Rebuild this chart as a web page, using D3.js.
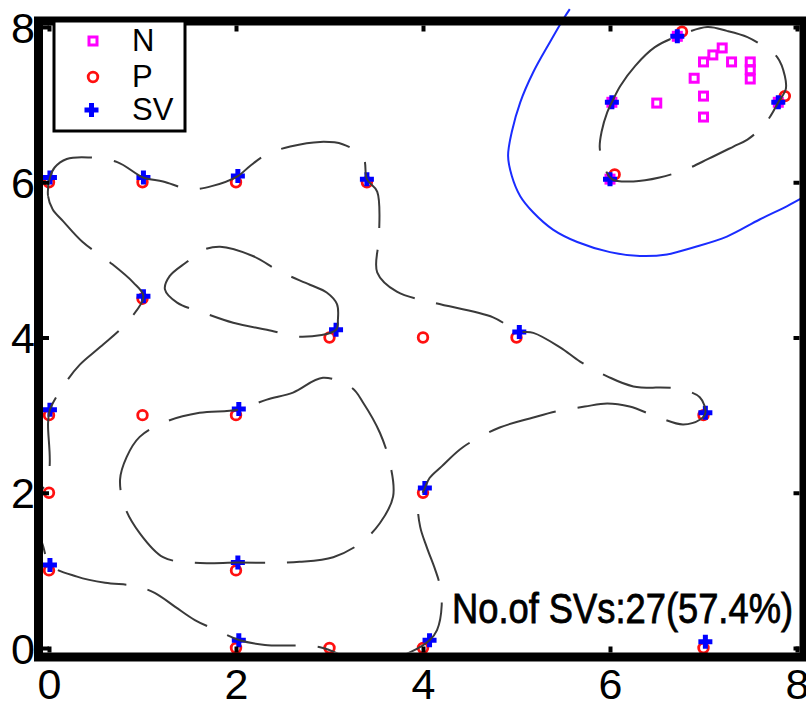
<!DOCTYPE html>
<html>
<head>
<meta charset="utf-8">
<script src="https://cdn.jsdelivr.net/npm/d3@7"></script>
<style>
  body { margin: 0; background: #fff; }
  text { font-family: "Liberation Sans", Arial, sans-serif; }
</style>
</head>
<body>
<div id="chart"></div>
<script>
// ---- data ----
const xTicks = [0, 2, 4, 6, 8]
const yTicks = [0, 2, 4, 6, 8]

const nPoints = [
  [6.5, 7.02], [7.0, 7.11], [7.0, 6.84], [6.9, 7.34], [7.0, 7.55], [7.1, 7.64],
  [7.2, 7.73], [7.3, 7.55], [7.5, 7.55], [7.5, 7.45], [7.5, 7.33],
  [6.02, 7.03], [6.0, 6.04], [6.72, 7.88], [7.8, 7.03]
]

const pPoints = [
  [0, 6], [1, 6], [2, 6], [3.4, 6], [6.05, 6.1], [6.77, 7.94], [7.87, 7.11],
  [1, 4.5], [3, 4], [4, 4], [5, 4], [7, 3], [0, 3], [1, 3], [2, 3],
  [0, 2], [4, 2], [0, 1], [2, 1], [2, 0], [3, 0], [4, 0], [7, 0]
]

const svPoints = [
  [0.01, 6.06], [1.01, 6.06], [2.02, 6.08], [3.4, 6.04], [6.0, 6.04], [6.02, 7.03],
  [6.72, 7.88], [7.8, 7.03], [1.01, 4.53], [3.07, 4.1], [5.03, 4.07], [7.02, 3.03],
  [0.01, 3.07], [2.03, 3.08], [4.02, 2.06], [0.01, 1.07], [2.02, 1.1], [2.03, 0.1],
  [4.07, 0.1], [7.02, 0.08]
]

// decision boundary (solid blue)
const boundary = [
  [5.57, 8.23], [5.50, 8.10], [5.36, 7.81], [5.18, 7.42], [5.04, 7.03], [4.95, 6.65],
  [4.91, 6.34], [4.95, 6.08], [5.04, 5.82], [5.18, 5.61], [5.39, 5.39], [5.65, 5.23],
  [6.00, 5.10], [6.32, 5.05], [6.61, 5.07], [6.89, 5.16], [7.25, 5.30], [7.60, 5.52],
  [7.89, 5.69], [8.09, 5.82]
]

// margin contours (dashed, closed loops)
const loopTopRight = [
  [6.02, 7.03], [6.11, 7.24], [6.27, 7.50], [6.48, 7.74], [6.72, 7.88], [7.04, 8.00],
  [7.25, 7.95], [7.47, 7.87], [7.64, 7.75], [7.79, 7.61], [7.87, 7.37], [7.88, 7.20],
  [7.80, 7.03], [7.71, 6.84], [7.60, 6.68], [7.47, 6.55], [7.32, 6.46], [7.05, 6.30],
  [6.82, 6.17], [6.53, 6.06], [6.25, 6.01], [6.02, 6.04], [5.93, 6.23], [5.89, 6.45],
  [5.91, 6.65], [5.97, 6.90]
]

const loopOuter = [
  [0.01, 6.06], [-0.01, 5.82], [0.04, 5.65], [0.15, 5.50], [0.36, 5.23], [0.65, 4.97],
  [0.90, 4.71], [1.01, 4.53], [0.83, 4.19], [0.55, 3.88], [0.33, 3.65], [0.15, 3.37],
  [0.01, 3.07], [-0.01, 2.90], [0.0, 2.27], [-0.15, 1.78], [-0.06, 1.30], [0.01, 1.07],
  [0.30, 0.92], [0.60, 0.84], [0.92, 0.80], [1.13, 0.71], [1.35, 0.53], [1.56, 0.36],
  [1.81, 0.22], [2.04, 0.10], [2.31, 0.04], [2.90, 0.01], [3.43, -0.22], [3.87, -0.05],
  [4.07, 0.10], [4.15, 0.23], [4.20, 0.55], [4.18, 0.81], [4.13, 1.01], [4.04, 1.30],
  [3.97, 1.56], [3.95, 1.85], [4.02, 2.06], [4.07, 2.19], [4.20, 2.34], [4.43, 2.59],
  [4.82, 2.84], [5.18, 2.97], [5.43, 3.05], [5.73, 3.11], [5.97, 3.15], [6.21, 3.11],
  [6.50, 2.98], [6.78, 2.88], [6.96, 2.94], [7.02, 3.03], [6.96, 3.23], [6.72, 3.34],
  [6.25, 3.37], [5.97, 3.50], [5.68, 3.69], [5.47, 3.87], [5.18, 4.06], [5.01, 4.08],
  [4.75, 4.26], [4.11, 4.45], [3.72, 4.59], [3.51, 4.84], [3.53, 5.30], [3.51, 5.88],
  [3.40, 6.04], [3.36, 6.32], [3.14, 6.49], [2.90, 6.52], [2.58, 6.46], [2.33, 6.36],
  [2.15, 6.21], [2.02, 6.08], [1.74, 5.95], [1.51, 5.91], [1.22, 6.01], [1.01, 6.06],
  [0.73, 6.26], [0.42, 6.32], [0.19, 6.30], [0.06, 6.19]
]

const loopMid = [
  [3.07, 4.10], [3.09, 4.23], [3.08, 4.43], [2.97, 4.58], [2.79, 4.68], [2.47, 4.85],
  [2.18, 5.05], [1.83, 5.17], [1.61, 5.11], [1.48, 4.98], [1.29, 4.79], [1.24, 4.62],
  [1.37, 4.45], [1.65, 4.32], [1.97, 4.19], [2.33, 4.10], [2.71, 4.01]
]

const loopLow = [
  [2.02, 3.07], [2.33, 3.20], [2.61, 3.29], [2.93, 3.48], [3.24, 3.35], [3.36, 3.16],
  [3.54, 2.77], [3.65, 2.36], [3.68, 1.95], [3.54, 1.61], [3.33, 1.35], [3.04, 1.17],
  [2.68, 1.11], [2.40, 1.10], [2.02, 1.10], [1.53, 1.10], [1.22, 1.17], [0.97, 1.48],
  [0.81, 1.82], [0.76, 2.17], [0.83, 2.46], [0.97, 2.72], [1.26, 2.92], [1.61, 3.03]
]

const legendItems = ['N', 'P', 'SV']
const svNote = 'No.of SVs:27(57.4%)'

// ---- canvas ----
const width = 806,
  height = 706

const svg = d3.select('#chart')
  .append('svg')
  .attr('width', width)
  .attr('height', height)

const x = d3.scaleLinear().domain([0, 8]).range([49, 797])
const y = d3.scaleLinear().domain([0, 8]).range([648, 27])

// frame sits a little outside the data area, like the original export
const frame = { left: 38.5, right: 804, top: 21, bottom: 657, w: 9 }
const inner = { left: frame.left + frame.w / 2, right: frame.right - frame.w / 2,
  top: frame.top + frame.w / 2, bottom: frame.bottom - frame.w / 2 }

svg.append('clipPath').attr('id', 'plotclip')
  .append('rect')
  .attr('x', inner.left).attr('y', inner.top)
  .attr('width', inner.right - inner.left)
  .attr('height', inner.bottom - inner.top)

// markers
const plus = 'M-7,0H7M0,-7V7'

svg.append('g').selectAll('rect')
  .data(nPoints)
  .enter().append('rect')
  .attr('x', d => x(d[0]) - 4)
  .attr('y', d => y(d[1]) - 4)
  .attr('width', 8).attr('height', 8)
  .attr('fill', 'none')
  .attr('stroke', '#ff00ff')
  .attr('stroke-width', 3)

svg.append('g').selectAll('circle')
  .data(pPoints)
  .enter().append('circle')
  .attr('cx', d => x(d[0]))
  .attr('cy', d => y(d[1]))
  .attr('r', 4.8)
  .attr('fill', 'none')
  .attr('stroke', '#ff1010')
  .attr('stroke-width', 2.8)

svg.append('g').selectAll('path')
  .data(svPoints)
  .enter().append('path')
  .attr('transform', d => 'translate(' + x(d[0]) + ',' + y(d[1]) + ')')
  .attr('d', plus)
  .attr('stroke', '#0000ff')
  .attr('stroke-width', 5)

// contours
const closedLine = d3.line()
  .x(d => x(d[0])).y(d => y(d[1]))
  .curve(d3.curveCatmullRomClosed.alpha(0.5))

const openLine = d3.line()
  .x(d => x(d[0])).y(d => y(d[1]))
  .curve(d3.curveCatmullRom.alpha(0.5))

svg.append('g')
  .attr('clip-path', 'url(#plotclip)')
  .selectAll('path')
  .data([loopOuter, loopMid, loopLow, loopTopRight])
  .enter().append('path')
  .attr('d', closedLine)
  .attr('fill', 'none')
  .attr('stroke', '#3a3a3a')
  .attr('stroke-width', 2)
  .attr('stroke-dasharray', '70,22')

svg.append('path')
  .datum(boundary)
  .attr('d', openLine)
  .attr('fill', 'none')
  .attr('stroke', '#1a2cff')
  .attr('stroke-width', 2)

// frame
svg.append('rect')
  .attr('x', frame.left).attr('y', frame.top)
  .attr('width', frame.right - frame.left)
  .attr('height', frame.bottom - frame.top)
  .attr('fill', 'none')
  .attr('stroke', '#000')
  .attr('stroke-width', frame.w)

// axes: inward ticks, labels only bottom / left
const tickStyle = g => {
  g.select('.domain').remove()
  g.selectAll('.tick line').attr('stroke', '#000').attr('stroke-width', 4)
  g.selectAll('.tick text')
    .attr('fill', '#000')
    .style('font-size', '43px')
    .style('font-family', '"Liberation Sans", Arial, sans-serif')
}

svg.append('g')
  .attr('transform', 'translate(0,' + inner.bottom + ')')
  .call(d3.axisBottom(x).tickValues(xTicks).tickSizeInner(-6).tickSizeOuter(0).tickPadding(16))
  .call(tickStyle)

svg.append('g')
  .attr('transform', 'translate(' + inner.left + ',0)')
  .call(d3.axisLeft(y).tickValues(yTicks).tickSizeInner(-6).tickSizeOuter(0).tickPadding(8))
  .call(tickStyle)
  .selectAll('.tick text').attr('dy', '0.35em')

svg.append('g')
  .attr('transform', 'translate(0,' + inner.top + ')')
  .call(d3.axisTop(x).tickValues(xTicks).tickSizeInner(-6).tickSizeOuter(0).tickFormat(''))
  .call(tickStyle)

svg.append('g')
  .attr('transform', 'translate(' + inner.right + ',0)')
  .call(d3.axisRight(y).tickValues(yTicks).tickSizeInner(-6).tickSizeOuter(0).tickFormat(''))
  .call(tickStyle)

// legend
const legend = svg.append('g')
legend.append('rect')
  .attr('x', 54).attr('y', 21)
  .attr('width', 131).attr('height', 110)
  .attr('fill', '#fff')
  .attr('stroke', '#000')
  .attr('stroke-width', 3)

const legendY = [41, 77, 110]
legendItems.forEach((name, i) => {
  const cy = legendY[i]
  if (name === 'N') {
    legend.append('rect')
      .attr('x', 89).attr('y', cy - 4).attr('width', 8).attr('height', 8)
      .attr('fill', 'none').attr('stroke', '#ff00ff').attr('stroke-width', 3)
  } else if (name === 'P') {
    legend.append('circle')
      .attr('cx', 93).attr('cy', cy).attr('r', 4.8)
      .attr('fill', 'none').attr('stroke', '#ff1010').attr('stroke-width', 2.8)
  } else {
    legend.append('path')
      .attr('transform', 'translate(91.5,' + cy + ')')
      .attr('d', plus)
      .attr('stroke', '#0000ff').attr('stroke-width', 5)
  }
  legend.append('text')
    .attr('x', 132)
    .attr('y', cy + 10)
    .style('font-size', '31px')
    .attr('fill', '#000')
    .text(name)
})

// SV count note (slightly heavier, as in the original)
svg.append('text')
  .attr('x', 452)
  .attr('y', 623)
  .attr('textLength', 341)
  .attr('lengthAdjust', 'spacingAndGlyphs')
  .style('font-size', '42px')
  .attr('fill', '#000')
  .attr('stroke', '#000')
  .attr('stroke-width', 0.8)
  .text(svNote)
</script>
</body>
</html>
